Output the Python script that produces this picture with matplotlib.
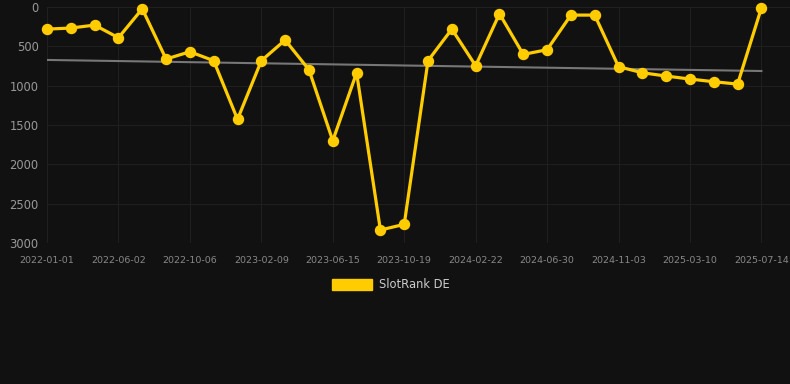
import numpy as np
import matplotlib
matplotlib.use('Agg')
import matplotlib.pyplot as plt
from matplotlib.patches import Patch

# 数据
tick_labels = ['2022-01-01', '2022-06-02', '2022-10-06', '2023-02-09', '2023-06-15',
               '2023-10-19', '2024-02-22', '2024-06-30', '2024-11-03', '2025-03-10',
               '2025-07-14']
rank = [280, 267, 229, 390, 22, 661, 568, 682, 1427, 682,
        419, 797, 1699, 835, 2834, 2762, 682, 280, 746, 85,
        602, 542, 102, 102, 758, 835, 877, 915, 949, 979, 10]

bg = '#111111'
yellow = '#FFCC00'

x = np.arange(len(rank))
k, b = np.polyfit(x, rank, 1)

fig = plt.figure(figsize=(7.9, 3.84), dpi=100, facecolor=bg)
ax = fig.add_axes([0.0595, 0.367, 0.9405, 0.6146], facecolor=bg)

ax.plot(x, k * x + b, color='#777777', lw=1.5, zorder=2)
ax.plot(x, rank, color=yellow, lw=2.3, marker='o', ms=7.2, clip_on=False, zorder=3)

ax.set_xlim(0, 31.2)
ax.set_ylim(3000, 0)
ax.set_yticks([0, 500, 1000, 1500, 2000, 2500, 3000])
ax.set_xticks(x[::3])
ax.set_xticklabels(tick_labels)
ax.grid(True, color='#1f1f1f', lw=0.8)
ax.set_axisbelow(True)
for s in ax.spines.values():
    s.set_visible(False)
ax.tick_params(axis='x', colors='#888888', labelsize=6.8, length=0, pad=9)
ax.tick_params(axis='y', colors='#999999', labelsize=8.3, length=0, pad=6)

fig.legend(handles=[Patch(color=yellow)], labels=['SlotRank DE'], loc='center',
           bbox_to_anchor=(0.495, 0.258), frameon=False, labelcolor='#cccccc',
           fontsize=8.3, handlelength=3.5, handleheight=1.0, handletextpad=0.6)

plt.savefig('out.png', dpi=100, facecolor=bg)
